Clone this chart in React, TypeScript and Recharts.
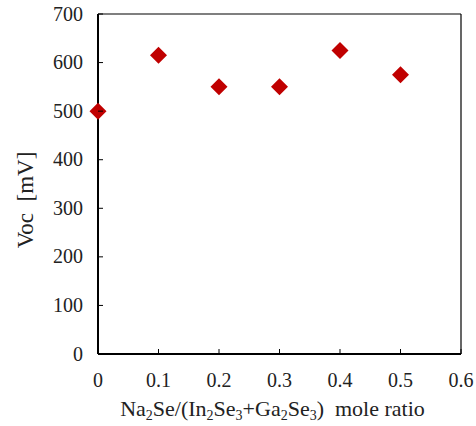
import React from 'react';
import {
  ScatterChart,
  Scatter,
  XAxis,
  YAxis,
  ReferenceLine,
} from 'recharts';

// ─── Data ─────────────────────────────────────────────────────────────────────

const moleRatio = [0, 0.1, 0.2, 0.3, 0.4, 0.5];
const vocMV = [500, 615, 550, 550, 625, 575];

const xTicks = [0, 0.1, 0.2, 0.3, 0.4, 0.5, 0.6];
const yTicks = [0, 100, 200, 300, 400, 500, 600, 700];

const points = moleRatio.map((x, i) => ({ x, y: vocMV[i] }));

// ─── Styling ──────────────────────────────────────────────────────────────────

const FONT = "'Liberation Serif', 'Times New Roman', serif";
const MARKER = '#C00000';
const TICK_FONT = 20;
const TICK_LEN = 5;

// ─── Custom ticks (marks point inward, like Excel) ─────────────────────────────

function XTick({ x, y, payload }: any) {
  return (
    <g>
      <line x1={x} x2={x} y1={y} y2={y - TICK_LEN} stroke="#000" strokeWidth={1} />
      <text x={x} y={y + 33} textAnchor="middle" fontFamily={FONT} fontSize={TICK_FONT} fill="#222">
        {payload.value}
      </text>
    </g>
  );
}

function YTick({ x, y, payload }: any) {
  return (
    <g>
      <line x1={x} x2={x + TICK_LEN} y1={y} y2={y} stroke="#000" strokeWidth={1} />
      <text x={x - 15} y={y + 6.5} textAnchor="end" fontFamily={FONT} fontSize={TICK_FONT} fill="#222">
        {payload.value}
      </text>
    </g>
  );
}

function Diamond({ cx, cy }: any) {
  const r = 8.5;
  return (
    <polygon
      points={`${cx},${cy - r} ${cx + r},${cy} ${cx},${cy + r} ${cx - r},${cy}`}
      fill={MARKER}
    />
  );
}

function XLabel({ viewBox }: any) {
  const cx = viewBox.x + viewBox.width / 2 - 7;
  const sub = 14;
  return (
    <text x={cx} y={416} textAnchor="middle" fontFamily={FONT} fontSize={22} fill="#222">
      <tspan>Na</tspan>
      <tspan fontSize={sub} dy={4}>2</tspan>
      <tspan dy={-4}>Se/(In</tspan>
      <tspan fontSize={sub} dy={4}>2</tspan>
      <tspan dy={-4}>Se</tspan>
      <tspan fontSize={sub} dy={4}>3</tspan>
      <tspan dy={-4}>+Ga</tspan>
      <tspan fontSize={sub} dy={4}>2</tspan>
      <tspan dy={-4}>Se</tspan>
      <tspan fontSize={sub} dy={4}>3</tspan>
      <tspan dy={-4}>{')\u00a0\u00a0mole ratio'}</tspan>
    </text>
  );
}

function YLabel() {
  return (
    <text
      x={0}
      y={0}
      transform="translate(33, 200) rotate(-90)"
      textAnchor="middle"
      fontFamily={FONT}
      fontSize={23}
      fill="#222"
    >
      {'Voc\u00a0\u00a0[mV]'}
    </text>
  );
}

// ─── Component ────────────────────────────────────────────────────────────────

export default function App() {
  return (
    <div style={{ position: 'absolute', left: 0, top: 0, background: '#fff' }}>
      <ScatterChart
        width={476}
        height={426}
        margin={{ top: 14, right: 15, left: 0, bottom: 0 }}
      >
        <XAxis
          type="number"
          dataKey="x"
          domain={[0, 0.6]}
          ticks={xTicks}
          interval={0}
          height={72}
          tickSize={0}
          tickMargin={0}
          tickLine={false}
          axisLine={{ stroke: '#000', strokeWidth: 2 }}
          tick={<XTick />}
          label={<XLabel />}
        />
        <YAxis
          type="number"
          dataKey="y"
          domain={[0, 700]}
          ticks={yTicks}
          interval={0}
          width={98}
          tickSize={0}
          tickMargin={0}
          tickLine={false}
          axisLine={{ stroke: '#000', strokeWidth: 2 }}
          tick={<YTick />}
          label={<YLabel />}
        />
        <ReferenceLine y={700} stroke="#000" strokeWidth={1.2} />
        <ReferenceLine x={0.6} stroke="#000" strokeWidth={1.2} />
        <Scatter data={points} shape={<Diamond />} isAnimationActive={false} />
      </ScatterChart>
    </div>
  );
}
